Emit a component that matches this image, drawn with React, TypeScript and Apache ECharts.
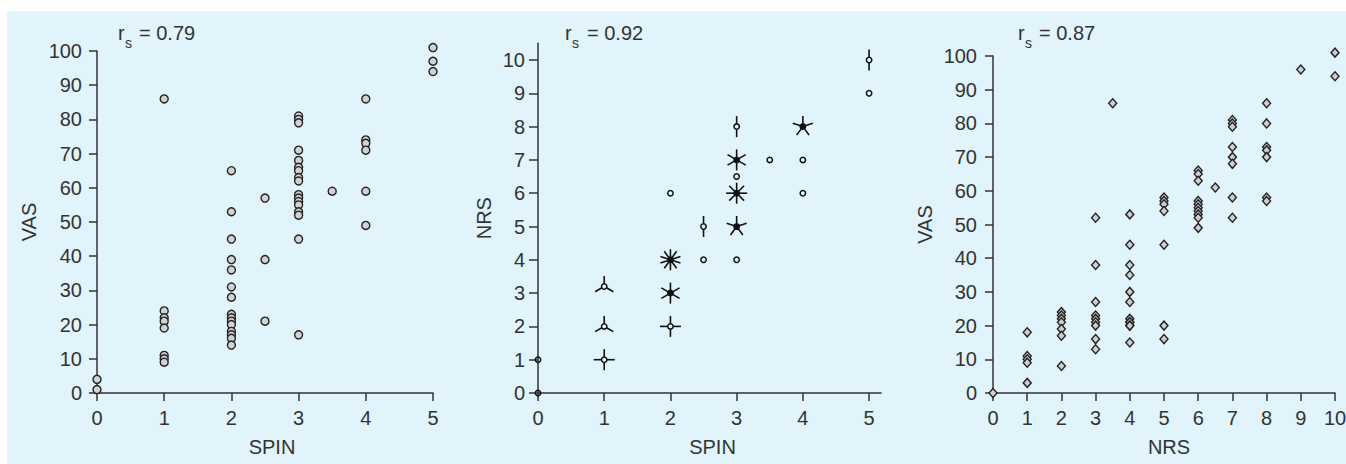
import React, { useEffect, useRef } from "react";
import * as echarts from "echarts";

// Panel 1: VAS by SPIN
const spinLevels1 = [0, 1, 2, 2.5, 3, 3.5, 4, 5];
const vasBySpin = [
  [4, 1],
  [86, 24, 22, 21, 19, 11, 10, 9],
  [65, 53, 45, 39, 36, 31, 28, 23, 22, 21, 20, 18, 17, 16, 14],
  [57, 39, 21],
  [81, 80, 79, 71, 68, 66, 65, 63, 62, 58, 57, 56, 55, 53, 52, 45, 17],
  [59],
  [86, 74, 73, 71, 59, 49],
  [101, 97, 94],
];

// Panel 2: NRS by SPIN (sunflower plot: count = number of observations)
const sfSpin = [0, 0, 1, 1, 1, 2, 2, 2, 2, 2.5, 2.5, 3, 3, 3, 3, 3, 3, 3.5, 4, 4, 4, 5, 5];
const sfNrs = [0, 1, 1, 2, 3.2, 2, 3, 4, 6, 5, 4, 8, 7, 6.5, 6, 5, 4, 7, 8, 7, 6, 10, 9];
const sfCount = [1, 1, 4, 3, 3, 4, 6, 10, 1, 2, 1, 2, 6, 1, 8, 5, 1, 1, 5, 1, 1, 2, 1];

// Panel 3: VAS by NRS
const nrsLevels3 = [0, 1, 2, 3, 3.5, 4, 5, 6, 6.5, 7, 8, 9, 10];
const vasByNrs = [
  [0],
  [18, 11, 10, 9, 3],
  [24, 23, 22, 21, 19, 17, 8],
  [52, 38, 27, 23, 22, 21, 20, 16, 13],
  [86],
  [53, 44, 38, 35, 30, 27, 22, 21, 21, 20, 20, 15],
  [58, 57, 56, 54, 44, 20, 16],
  [66, 65, 63, 57, 56, 55, 54, 53, 52, 49],
  [61],
  [81, 80, 79, 73, 70, 68, 58, 52],
  [86, 80, 73, 72, 70, 58, 57],
  [96],
  [101, 94],
];

const spinTicks = [0, 1, 2, 3, 4, 5];
const nrsTicks = [0, 1, 2, 3, 4, 5, 6, 7, 8, 9, 10];
const rsValues = ["0.79", "0.92", "0.87"];

const FONT = "'Liberation Sans', Arial, Helvetica, sans-serif";
const FS = 20;
const TXT = "#333333";
const AX = "#333333";

function flatten(levels: number[], groups: number[][]) {
  const out: number[][] = [];
  levels.forEach((x, i) => groups[i].forEach((y) => out.push([x, y])));
  return out;
}

function axisBase(extra: any) {
  return {
    type: "value",
    splitLine: { show: false },
    axisLine: { show: true, onZero: false, lineStyle: { color: AX, width: 1.5 } },
    axisTick: { show: true, inside: false, length: 8, lineStyle: { color: AX, width: 1.5 } },
    axisLabel: { color: TXT, fontSize: FS, fontFamily: FONT },
    nameLocation: "middle",
    nameTextStyle: { color: TXT, fontSize: FS, fontFamily: FONT },
    ...extra,
  };
}

export default function App() {
  const ref = useRef<HTMLDivElement>(null);

  useEffect(() => {
    if (!ref.current) return;
    const chart = echarts.init(ref.current, undefined, { renderer: "svg" });

    const rsX = [[118, 125, 139], [565, 572, 587], [1018, 1025, 1039]];
    const graphics: any[] = [];
    rsX.forEach((p, i) => {
      graphics.push({
        type: "text", x: p[0], y: 33,
        style: { text: "r", fontSize: FS, fontFamily: FONT, fill: TXT, verticalAlign: "middle" },
      });
      graphics.push({
        type: "text", x: p[1], y: 43,
        style: { text: "s", fontSize: 14, fontFamily: FONT, fill: TXT, verticalAlign: "middle" },
      });
      graphics.push({
        type: "text", x: p[2], y: 33,
        style: { text: "= " + rsValues[i], fontSize: FS, fontFamily: FONT, fill: TXT, verticalAlign: "middle" },
      });
    });

    const sfData = sfSpin.map((x, i) => [x, sfNrs[i], sfCount[i]]);

    const option: any = {
      animation: false,
      textStyle: { fontFamily: FONT },
      graphic: graphics,
      grid: [
        { left: 97, top: 51, width: 336, height: 342, outerBoundsMode: "none" },
        { left: 538, top: 43.35, width: 343, height: 349.65, outerBoundsMode: "none" },
        { left: 993, top: 56, width: 342, height: 337, outerBoundsMode: "none" },
      ],
      xAxis: [
        axisBase({
          gridIndex: 0, min: 0, max: 5, interval: 1, name: "SPIN", nameGap: 44,
          axisLabel: { color: TXT, fontSize: FS, fontFamily: FONT, margin: 15 },
          nameTextStyle: { color: TXT, fontSize: FS, fontFamily: FONT, padding: [0, 0, 0, 14] },
        }),
        axisBase({
          gridIndex: 1, min: 0, max: 5.18, name: "SPIN", nameGap: 44,
          axisTick: { show: true, length: 8, customValues: spinTicks, lineStyle: { color: AX, width: 1.5 } },
          axisLabel: { color: TXT, fontSize: FS, fontFamily: FONT, margin: 15, customValues: spinTicks },
          nameTextStyle: { color: TXT, fontSize: FS, fontFamily: FONT, padding: [0, 0, 0, 6] },
        }),
        axisBase({
          gridIndex: 2, min: 0, max: 10, interval: 1, name: "NRS", nameGap: 44,
          axisLabel: { color: TXT, fontSize: FS, fontFamily: FONT, margin: 15 },
          nameTextStyle: { color: TXT, fontSize: FS, fontFamily: FONT, padding: [0, 0, 0, 10] },
        }),
      ],
      yAxis: [
        axisBase({
          gridIndex: 0, min: 0, max: 100, interval: 10, name: "VAS", nameGap: 58,
          axisLabel: { color: TXT, fontSize: FS, fontFamily: FONT, margin: 15 },
        }),
        axisBase({
          gridIndex: 1, min: 0, max: 10.5, name: "NRS", nameGap: 44,
          axisTick: { show: true, length: 9, customValues: nrsTicks, lineStyle: { color: AX, width: 1.5 } },
          axisLabel: { color: TXT, fontSize: FS, fontFamily: FONT, margin: 13, customValues: nrsTicks },
        }),
        axisBase({
          gridIndex: 2, min: 0, max: 100, interval: 10, name: "VAS", nameGap: 58,
          axisLabel: { color: TXT, fontSize: FS, fontFamily: FONT, margin: 16 },
        }),
      ],
      series: [
        {
          type: "scatter",
          xAxisIndex: 0, yAxisIndex: 0,
          clip: false,
          symbol: "circle",
          symbolSize: 8,
          itemStyle: { color: "#d2d2d2", borderColor: "#222222", borderWidth: 1.4, opacity: 1 },
          data: flatten(spinLevels1, vasBySpin),
        },
        {
          type: "custom",
          xAxisIndex: 1, yAxisIndex: 1,
          data: sfData,
          renderItem: (params: any, api: any) => {
            const pt = api.coord([api.value(0), api.value(1)]);
            const n = api.value(2);
            const children: any[] = [];
            const L = 10.5;
            const r = 2.7;
            const dense = n >= 5;
            if (n > 1) {
              for (let k = 0; k < n; k++) {
                const a = -Math.PI / 2 + (k * 2 * Math.PI) / n;
                const r0 = dense ? 0 : r;
                children.push({
                  type: "line",
                  shape: {
                    x1: pt[0] + r0 * Math.cos(a), y1: pt[1] + r0 * Math.sin(a),
                    x2: pt[0] + L * Math.cos(a), y2: pt[1] + L * Math.sin(a),
                  },
                  style: { stroke: "#111111", lineWidth: 1.6 },
                });
              }
            }
            children.push({
              type: "circle",
              shape: { cx: pt[0], cy: pt[1], r },
              style: { fill: dense ? "#111111" : "none", stroke: "#111111", lineWidth: 1.5 },
            });
            return { type: "group", children };
          },
        },
        {
          type: "scatter",
          xAxisIndex: 2, yAxisIndex: 2,
          clip: false,
          symbol: "diamond",
          symbolSize: [8, 9],
          itemStyle: { color: "#cfcfcf", borderColor: "#222222", borderWidth: 1.4, opacity: 1 },
          data: flatten(nrsLevels3, vasByNrs),
        },
      ],
    };

    chart.setOption(option);
    return () => chart.dispose();
  }, []);

  return (
    <div style={{ position: "fixed", left: 0, top: 0, width: 1346, height: 464, background: "#ffffff" }}>
      <div style={{ position: "absolute", left: 7, top: 11, width: 1339, height: 453, background: "#e1f3fb" }} />
      <div ref={ref} style={{ position: "absolute", left: 0, top: 0, width: 1346, height: 464 }} />
    </div>
  );
}
